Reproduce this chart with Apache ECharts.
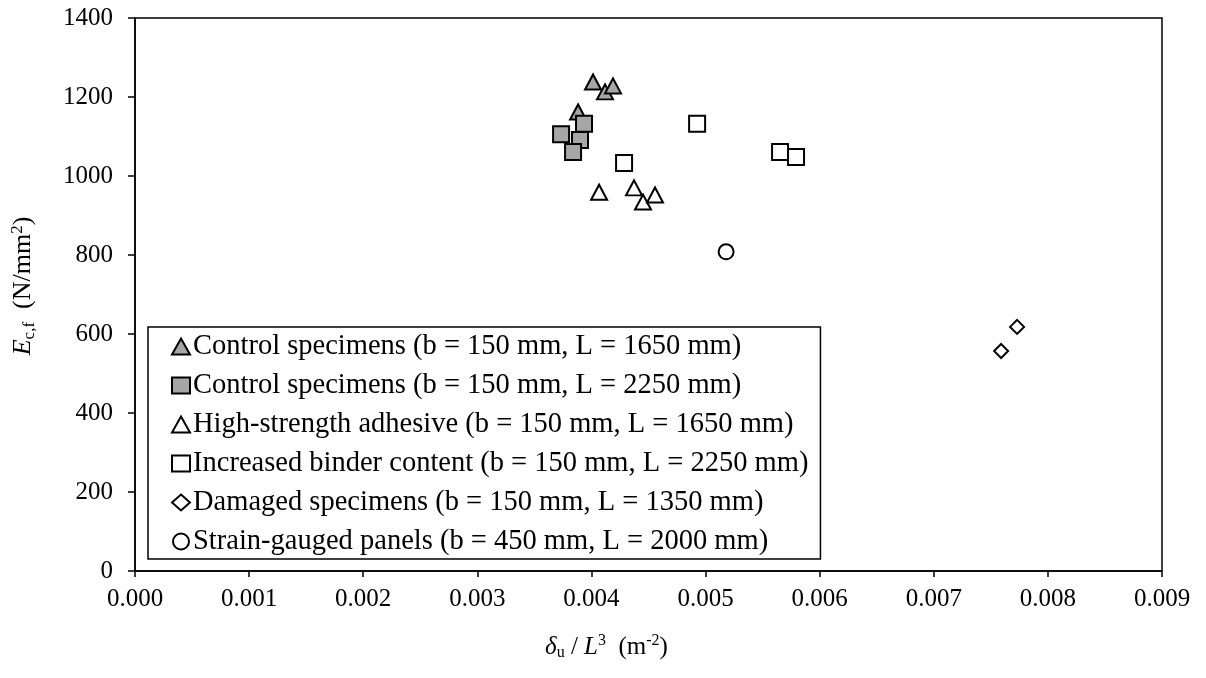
<!DOCTYPE html>
<html>
<head>
<meta charset="utf-8">
<script src="https://cdn.jsdelivr.net/npm/echarts@6/dist/echarts.min.js"></script>
<style>
  html, body { margin: 0; padding: 0; background: #fff; }
  #chart { width: 1206px; height: 678px; }
</style>
</head>
<body>
<div id="chart"></div>
<script>
// Normalised deflection δu/L³ (m⁻²) against flexural modulus Ec,f (N/mm²)
const seriesNames = [
  'Control specimens (b = 150 mm, L = 1650 mm)',
  'Control specimens (b = 150 mm, L = 2250 mm)',
  'High-strength adhesive (b = 150 mm, L = 1650 mm)',
  'Increased binder content (b = 150 mm, L = 2250 mm)',
  'Damaged specimens (b = 150 mm, L = 1350 mm)',
  'Strain-gauged panels (b = 450 mm, L = 2000 mm)'
];

const control1650 = [[0.003883, 1162], [0.004014, 1238], [0.004119, 1213], [0.004189, 1228]];
const control2250 = [[0.003734, 1106], [0.003935, 1132], [0.003900, 1091], [0.003839, 1061]];
const highStrength = [[0.004067, 959], [0.004373, 970], [0.004452, 934], [0.004557, 952]];
const binderContent = [[0.004286, 1033], [0.004926, 1132], [0.005653, 1061], [0.005793, 1048]];
const damaged = [[0.007590, 557], [0.007730, 618]];
const strainGauged = [[0.005180, 808]];

const xTicks = ['0.000', '0.001', '0.002', '0.003', '0.004', '0.005', '0.006', '0.007', '0.008', '0.009'];

const FONT = "'Liberation Serif', 'Times New Roman', serif";
const GREY = '#a6a6a6';
const AXIS_FS = 25;

function scatter(name, data, symbol, size, fill) {
  return {
    name: name,
    type: 'scatter',
    data: data,
    symbol: symbol,
    symbolSize: size,
    itemStyle: { color: fill, borderColor: '#000', borderWidth: 2, opacity: 1 },
    emphasis: { disabled: true },
    z: 3
  };
}

function titleRich(fs) {
  return {
    i: { fontFamily: FONT, fontSize: fs, fontStyle: 'italic', color: '#000' },
    n: { fontFamily: FONT, fontSize: fs, color: '#000' },
    sub: { fontFamily: FONT, fontSize: Math.round(fs * 0.64), color: '#000', padding: [12, 0, 0, 0] },
    sup: { fontFamily: FONT, fontSize: Math.round(fs * 0.64), color: '#000', padding: [0, 0, 12, 0] }
  };
}

const chart = echarts.init(document.getElementById('chart'), null, { renderer: 'canvas' });

chart.setOption({
  animation: false,
  backgroundColor: '#fff',
  textStyle: { fontFamily: FONT },
  grid: {
    left: 135, right: 44, top: 18, bottom: 107,
    show: true, borderColor: '#000', borderWidth: 1.5, backgroundColor: 'transparent'
  },
  legend: {
    orient: 'vertical',
    left: 148, top: 327,
    data: [
      { name: seriesNames[0], icon: 'triangle' },
      { name: seriesNames[1], icon: 'rect' },
      { name: seriesNames[2], icon: 'triangle' },
      { name: seriesNames[3], icon: 'rect' },
      { name: seriesNames[4], icon: 'diamond' },
      { name: seriesNames[5], icon: 'circle' }
    ],
    itemWidth: 18, itemHeight: 16, itemGap: 10,
    padding: [5, 12, 3, 23],
    borderColor: '#000', borderWidth: 1.5, backgroundColor: '#fff',
    textStyle: { fontFamily: FONT, fontSize: 28.5, color: '#000', padding: [0, 0, 0, -2] },
    selectedMode: false
  },
  xAxis: {
    type: 'value',
    min: 0, max: 0.009, interval: 0.001,
    axisLine: { show: true, onZero: false, lineStyle: { color: '#000', width: 1.5 } },
    axisTick: { show: true, inside: false, length: 6, lineStyle: { color: '#000', width: 1.5 } },
    splitLine: { show: false },
    axisLabel: {
      margin: 16, fontFamily: FONT, fontSize: AXIS_FS, color: '#000',
      formatter: function (v) { return xTicks[Math.round(v / 0.001)]; }
    },
    name: '{i|δ}{sub|u}{n| / }{i|L}{sup|3}{n|  (m}{sup|-2}{n|)}',
    nameLocation: 'middle',
    nameGap: 62,
    nameTextStyle: {
      fontFamily: FONT, fontSize: AXIS_FS, color: '#000',
      padding: [0, 84, 0, 0],
      rich: titleRich(AXIS_FS)
    }
  },
  yAxis: {
    type: 'value',
    min: 0, max: 1400, interval: 200,
    axisLine: { show: true, onZero: false, lineStyle: { color: '#000', width: 1.5 } },
    axisTick: { show: true, inside: false, length: 7, lineStyle: { color: '#000', width: 1.5 } },
    splitLine: { show: false },
    axisLabel: {
      margin: 22, fontFamily: FONT, fontSize: AXIS_FS, color: '#000',
      formatter: function (v) { return String(v); }
    },
    name: '{i|E}{sub|c,f}{n|  (N/mm}{sup|2}{n|)}',
    nameLocation: 'middle',
    nameRotate: 90,
    nameGap: 97,
    nameTextStyle: {
      fontFamily: FONT, fontSize: 26, color: '#000',
      padding: [0, 0, 0, 17],
      rich: titleRich(26)
    }
  },
  series: [
    scatter(seriesNames[0], control1650, 'triangle', [16, 15], GREY),
    scatter(seriesNames[1], control2250, 'rect', [16, 16], GREY),
    scatter(seriesNames[2], highStrength, 'triangle', [16, 15], '#fff'),
    scatter(seriesNames[3], binderContent, 'rect', [16, 16], '#fff'),
    scatter(seriesNames[4], damaged, 'diamond', [14, 14], '#fff'),
    scatter(seriesNames[5], strainGauged, 'circle', [15, 15], '#fff')
  ]
});
</script>
</body>
</html>
